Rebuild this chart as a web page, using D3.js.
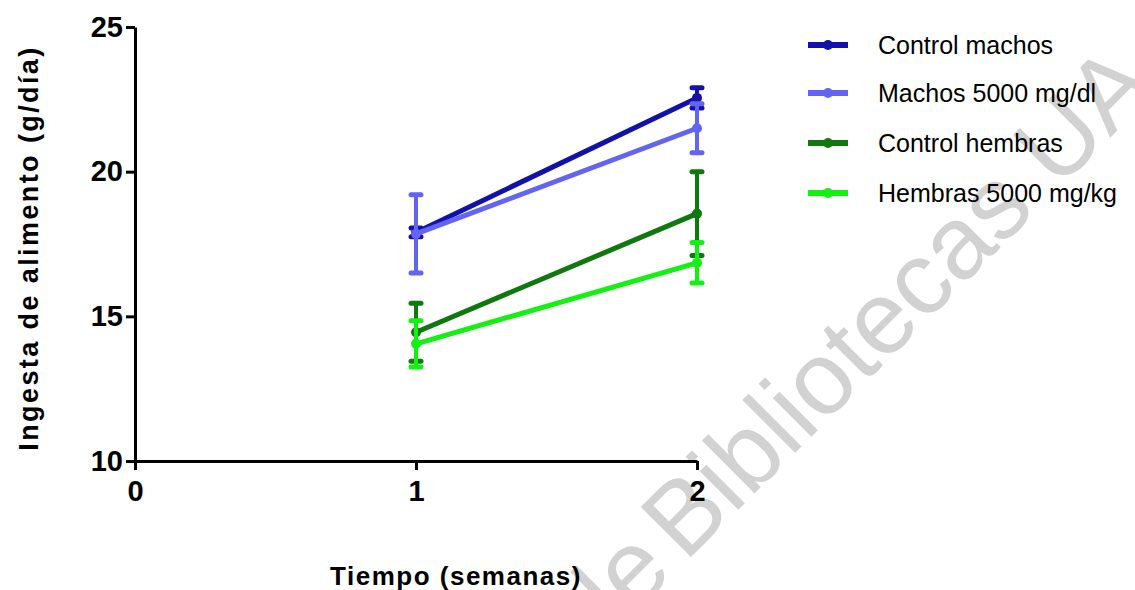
<!DOCTYPE html>
<html>
<head>
<meta charset="utf-8">
<script src="https://cdn.jsdelivr.net/npm/d3@7"></script>
<style>
  html, body { margin: 0; padding: 0; background: #fff; }
  svg { display: block; }
  text { font-family: "Liberation Sans", Arial, sans-serif; }
</style>
</head>
<body>
<svg id="chart" width="1135" height="590"></svg>
<script>
// Weeks on the x axis
const weeks = [1, 2];
const xTicks = [0, 1, 2];
const yTicks = [10, 15, 20, 25];

// Group names and colours
const groups = ["Control machos", "Machos 5000 mg/dl", "Control hembras", "Hembras 5000 mg/kg"];
const colors = ["#1212A8", "#6464F2", "#0F780F", "#14F014"];

// Mean food intake (g/day) per group, week 1 and week 2
const controlMachos = [17.9, 22.55];
const machos5000 = [17.85, 21.5];
const controlHembras = [14.45, 18.55];
const hembras5000 = [14.05, 16.85];

// Error (± g/day) per group, week 1 and week 2
const errControlMachos = [0.15, 0.35];
const errMachos5000 = [1.35, 0.85];
const errControlHembras = [1.0, 1.45];
const errHembras5000 = [0.8, 0.7];

const means = [controlMachos, machos5000, controlHembras, hembras5000];
const errors = [errControlMachos, errMachos5000, errControlHembras, errHembras5000];

const svg = d3.select("#chart");

const x = d3.scaleLinear().domain([0, 2]).range([135, 697]);
const y = d3.scaleLinear().domain([10, 25]).range([461, 27]);

// Faint repository watermark behind everything
const wm = svg.append("g")
  .attr("transform", "translate(685,563) rotate(-45)")
  .attr("fill", "#d2d2d2")
  .style("font-size", "103px");
wm.append("text").attr("x", 0).attr("y", 0).text("Bibliotecas UA");
wm.append("text").attr("x", -14).attr("y", 0).attr("text-anchor", "end").text("de");

// Axes
const yAxis = d3.axisLeft(y).tickValues(yTicks).tickSize(9).tickSizeOuter(0).tickPadding(3)
  .tickFormat(d3.format("d"));
const xAxis = d3.axisBottom(x).tickValues(xTicks).tickSize(9).tickSizeOuter(0).tickPadding(10)
  .tickFormat(d3.format("d"));

const gy = svg.append("g").attr("transform", `translate(${x(0)},0)`).call(yAxis);
const gx = svg.append("g").attr("transform", `translate(0,${y(10)})`).call(xAxis);

[gx, gy].forEach(g => {
  g.select(".domain").attr("stroke", "#000").attr("stroke-width", 3);
  g.selectAll(".tick line").attr("stroke", "#000").attr("stroke-width", 3);
  g.selectAll(".tick text")
    .attr("fill", "#000")
    .style("font-size", "29px")
    .style("font-weight", "bold")
    .style("font-family", "'Liberation Sans', Arial, sans-serif");
});

// Axis titles
svg.append("text")
  .attr("transform", "translate(38,248) rotate(-90)")
  .attr("text-anchor", "middle")
  .style("font-size", "27px")
  .style("font-weight", "bold")
  .style("letter-spacing", "2.4px")
  .text("Ingesta de alimento (g/día)");

svg.append("text")
  .attr("x", 456)
  .attr("y", 585)
  .attr("text-anchor", "middle")
  .style("font-size", "26px")
  .style("font-weight", "bold")
  .style("letter-spacing", "1.5px")
  .text("Tiempo (semanas)");

// Series: line, error bars, markers
const line = d3.line().x(d => x(d.w)).y(d => y(d.v));
const capW = 5;

groups.forEach((name, i) => {
  const pts = weeks.map((w, j) => ({ w, v: means[i][j], e: errors[i][j] }));
  const g = svg.append("g").attr("stroke", colors[i]).attr("fill", colors[i]);

  g.append("path")
    .datum(pts)
    .attr("fill", "none")
    .attr("stroke-width", 5)
    .attr("stroke-linecap", "round")
    .attr("d", line);

  pts.forEach(p => {
    g.append("line")
      .attr("x1", x(p.w)).attr("x2", x(p.w))
      .attr("y1", y(p.v - p.e)).attr("y2", y(p.v + p.e))
      .attr("stroke-width", 4);
    [p.v - p.e, p.v + p.e].forEach(v => {
      g.append("line")
        .attr("x1", x(p.w) - capW).attr("x2", x(p.w) + capW)
        .attr("y1", y(v)).attr("y2", y(v))
        .attr("stroke-width", 5)
        .attr("stroke-linecap", "round");
    });
    g.append("circle")
      .attr("cx", x(p.w)).attr("cy", y(p.v))
      .attr("r", 5)
      .attr("stroke", "none");
  });
});

// Legend
const legend = svg.append("g").attr("transform", "translate(808,45)");
groups.forEach((name, i) => {
  const row = legend.append("g").attr("transform", `translate(0,${[0, 48, 98, 148][i]})`);
  row.append("line")
    .attr("x1", 0).attr("x2", 40).attr("y1", 0).attr("y2", 0)
    .attr("stroke", colors[i]).attr("stroke-width", 6);
  row.append("circle").attr("cx", 20).attr("cy", 0).attr("r", 5).attr("fill", colors[i]);
  row.append("text")
    .attr("x", 70).attr("y", 9)
    .attr("fill", "#000")
    .style("font-size", "25px")
    .text(name);
});
</script>
</body>
</html>
